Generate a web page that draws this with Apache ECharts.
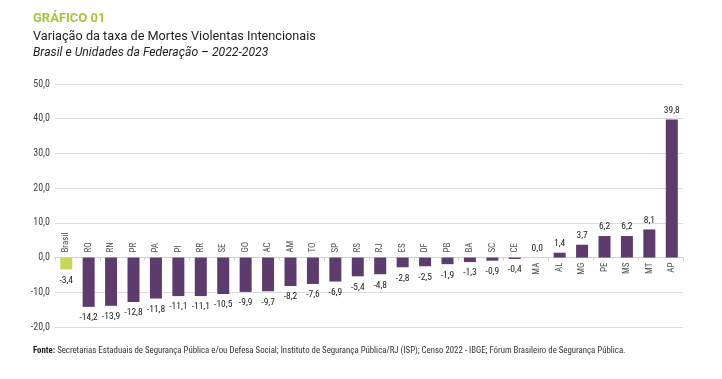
<!DOCTYPE html>
<html><head><meta charset="utf-8">
<script src="https://cdn.jsdelivr.net/npm/echarts@6/dist/echarts.min.js"></script>
<style>html,body{margin:0;padding:0;background:#fff;}#c{width:722px;height:379px;}</style>
</head><body><div id="c"></div>
<script>
var categories = ['Brasil','RO','RN','PR','PA','PI','RR','SE','GO','AC','AM','TO','SP','RS','RJ','ES','DF','PB','BA','SC','CE','MA','AL','MG','PE','MS','MT','AP'];
var values = [-3.4,-14.2,-13.9,-12.8,-11.8,-11.1,-11.1,-10.5,-9.9,-9.7,-8.2,-7.6,-6.9,-5.4,-4.8,-2.8,-2.5,-1.9,-1.3,-0.9,-0.4,0.0,1.4,3.7,6.2,6.2,8.1,39.8];
var yTicks = [-20,-10,0,10,20,30,40,50];

var COND = '"Roboto Condensed",sans-serif';
var PURPLE = '#5d3b6d', GREEN = '#c6d75c';
function fmt(v){ return v.toFixed(1).replace('.', ','); }

var barData = values.map(function(v,i){
  return {
    value: v,
    itemStyle: {color: i === 0 ? GREEN : PURPLE},
    label: {position: v >= 0 ? 'top' : 'bottom', distance: v >= 0 ? 4 : 6}
  };
});
var nameData = categories.map(function(c,i){
  var neg = values[i] < 0;
  return {
    value: [c, 0],
    label: {
      formatter: c,
      position: neg ? 'top' : 'bottom',
      align: neg ? 'left' : 'right',
      verticalAlign: 'middle',
      distance: 5
    }
  };
});

var chart = echarts.init(document.getElementById('c'), null, {renderer:'canvas'});
chart.setOption({
  animation: false,
  graphic: [
    {type:'text', left:33, top:12, style:{text:'GRÁFICO 01', font:'bold 13px Roboto,sans-serif', fill:'#a6c53d'}},
    {type:'text', left:33, top:30, style:{text:'Variação da taxa de Mortes Violentas Intencionais', font:'12.7px Roboto,sans-serif', fill:'#1e1e1e'}},
    {type:'text', left:33, top:47, style:{text:'Brasil e Unidades da Federação – 2022-2023', font:'italic 12.2px Roboto,sans-serif', fill:'#1e1e1e'}},
    {type:'text', left:33, top:346, style:{
      text:'{b|Fonte:} Secretarias Estaduais de Segurança Pública e/ou Defesa Social; Instituto de Segurança Pública/RJ (ISP); Censo 2022 - IBGE; Fórum Brasileiro de Segurança Pública.',
      rich:{b:{fontWeight:'bold', fontFamily:COND, fontSize:8.8, fill:'#222'}},
      fontFamily:COND, fontSize:8.8, fill:'#333'}}
  ],
  grid: {left:55, right:39, top:84, bottom:52},
  xAxis: {
    type:'category', data:categories,
    axisLine:{onZero:true, lineStyle:{color:'#d0d0d0'}},
    axisTick:{show:true, lineStyle:{color:'#d0d0d0'}, length:3},
    axisLabel:{show:false}
  },
  yAxis: {
    type:'value', min:yTicks[0], max:yTicks[yTicks.length-1], interval:10,
    axisLine:{show:false}, axisTick:{show:false},
    splitLine:{lineStyle:{color:'#dcdcdc'}},
    axisLabel:{formatter:function(v){return fmt(v);}, fontFamily:COND, fontSize:10, color:'#444', margin:5}
  },
  series: [
    {
      type:'bar', data:barData, barWidth:12,
      label:{show:true, formatter:function(p){return fmt(p.value);}, fontFamily:COND, fontSize:9.5, color:'#222'}
    },
    {
      type:'scatter', data:nameData, symbolSize:0, silent:true,
      label:{show:true, rotate:90, fontFamily:COND, fontSize:9, color:'#222'}
    }
  ]
});
</script>
</body></html>
